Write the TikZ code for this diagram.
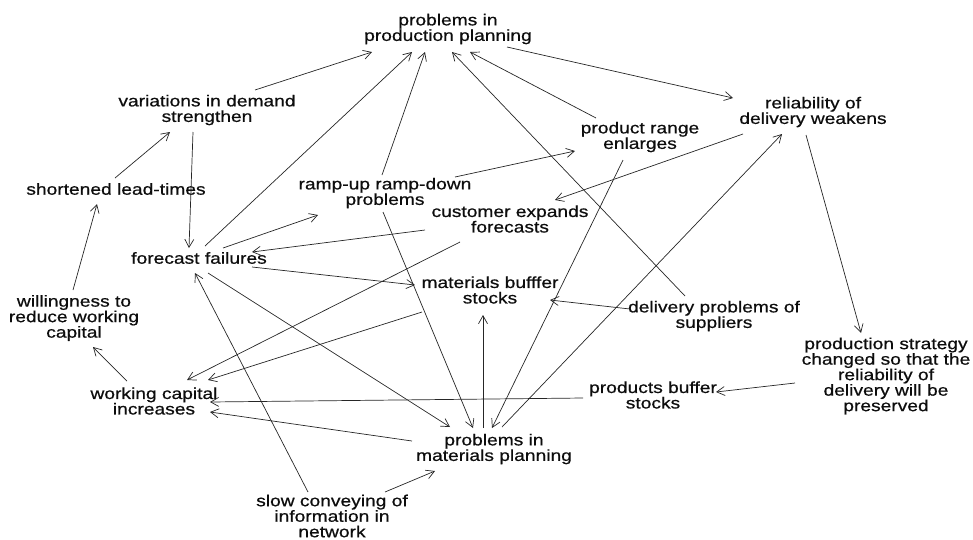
\documentclass[tikz,border=0pt]{standalone}
\usepackage{fontspec}
\setmainfont{Liberation Sans}[FakeStretch=1.2,FakeBold=0.6]
\usetikzlibrary{arrows.meta}
\newcommand\lblfont{\fontsize{16}{15.5}\selectfont}
\begin{document}
\begin{tikzpicture}[x=1pt,y=-1pt,
  lbl/.style={align=center, inner sep=0pt, font=\lblfont, text=black!95},
  link/.style={line width=0.7pt, draw=black!85, -{Straight Barb[length=8pt,width=9pt,line width=0.7pt]}}]
\useasboundingbox (0,0) rectangle (973,539);

% causes and effects
\node[lbl] (ppp) at (448,29)  {problems in\\production planning};
\node[lbl] (vds) at (207,110) {variations in demand\\strengthen};
\node[lbl] (slt) at (116,189) {shortened lead-times};
\node[lbl] (rup) at (385,193) {ramp-up ramp-down\\problems};
\node[lbl] (pre) at (640,137) {product range\\enlarges};
\node[lbl] (rdw) at (813,112) {reliability of\\delivery weakens};
\node[lbl] (cef) at (510,219) {customer expands\\forecasts};
\node[lbl] (ff)  at (199,258) {forecast failures};
\node[lbl] (mbs) at (490,290) {materials bufffer\\stocks};
\node[lbl] (dps) at (714,316) {delivery problems of\\suppliers};
\node[lbl] (wrc) at (74,318)  {willingness to\\reduce working\\capital};
\node[lbl] (psc) at (886,376) {production strategy\\changed so that the\\reliability of\\delivery will be\\preserved};
\node[lbl] (pbs) at (653,395) {products buffer\\stocks};
\node[lbl] (wci) at (154,401) {working capital\\increases};
\node[lbl] (pmp) at (494,449) {problems in\\materials planning};
\node[lbl] (sci) at (332,516) {slow conveying of\\information in\\network};

% causal links
\draw[link] ([shift={(48,-20)}]vds.center) -- ([shift={(-76,23)}]ppp.center);
\draw[link] ([shift={(6,-12)}]ff.center)   -- ([shift={(-36,23)}]ppp.center);
\draw[link] ([shift={(-3,-18)}]rup.center) -- ([shift={(-23,23)}]ppp.center);
\draw[link] ([shift={(-29,-20)}]dps.center) -- ([shift={(4,23)}]ppp.center);
\draw[link] ([shift={(-44,-19)}]pre.center) -- ([shift={(22,23)}]ppp.center);
\draw[link] ([shift={(59,18)}]ppp.center)  -- ([shift={(-80,-14)}]rdw.center);
\draw[link] ([shift={(-70,22)}]rdw.center) -- ([shift={(45,-19)}]cef.center);
\draw[link] ([shift={(8,-22)}]pmp.center)  -- ([shift={(-31,22)}]rdw.center);
\draw[link] ([shift={(-7,23)}]rdw.center)  -- ([shift={(-25,-43)}]psc.center);
\draw[link] ([shift={(-91,7)}]psc.center)  -- ([shift={(63,-3)}]pbs.center);
\draw[link] ([shift={(-70,3)}]pbs.center)  -- ([shift={(56,1)}]wci.center);
\draw[link] ([shift={(-82,-8)}]pmp.center) -- ([shift={(56,11)}]wci.center);
\draw[link] ([shift={(-50,23)}]cef.center) -- ([shift={(33,-21)}]wci.center);
\draw[link] ([shift={(-68,22)}]mbs.center) -- ([shift={(54,-21)}]wci.center);
\draw[link] ([shift={(-85,11)}]cef.center) -- ([shift={(53,-6)}]ff.center);
\draw[link] ([shift={(24,-10)}]ff.center)  -- ([shift={(-67,22)}]rup.center);
\draw[link] ([shift={(70,-16)}]rup.center) -- ([shift={(-65,14)}]pre.center);
\draw[link] ([shift={(53,9)}]ff.center)    -- ([shift={(-75,-5)}]mbs.center);
\draw[link] ([shift={(9,15)}]ff.center)    -- ([shift={(-44,-22)}]pmp.center);
\draw[link] ([shift={(-2,19)}]rup.center)  -- ([shift={(-21,-21)}]pmp.center);
\draw[link] ([shift={(-17,23)}]pre.center) -- ([shift={(-2,-21)}]pmp.center);
\draw[link] ([shift={(-11,-21)}]pmp.center) -- ([shift={(-7,25)}]mbs.center);
\draw[link] ([shift={(-84,-7)}]dps.center) -- ([shift={(60,10)}]mbs.center);
\draw[link] ([shift={(-24,-24)}]sci.center) -- ([shift={(-4,15)}]ff.center);
\draw[link] ([shift={(53,-24)}]sci.center) -- ([shift={(-59,22)}]pmp.center);
\draw[link] ([shift={(-27,-20)}]wci.center) -- ([shift={(19,29)}]wrc.center);
\draw[link] ([shift={(-1,-28)}]wrc.center) -- ([shift={(-19,15)}]slt.center);
\draw[link] ([shift={(-1,-11)}]slt.center) -- ([shift={(-37,22)}]vds.center);
\draw[link] ([shift={(-14,22)}]vds.center) -- ([shift={(-10,-10)}]ff.center);
\end{tikzpicture}
\end{document}
